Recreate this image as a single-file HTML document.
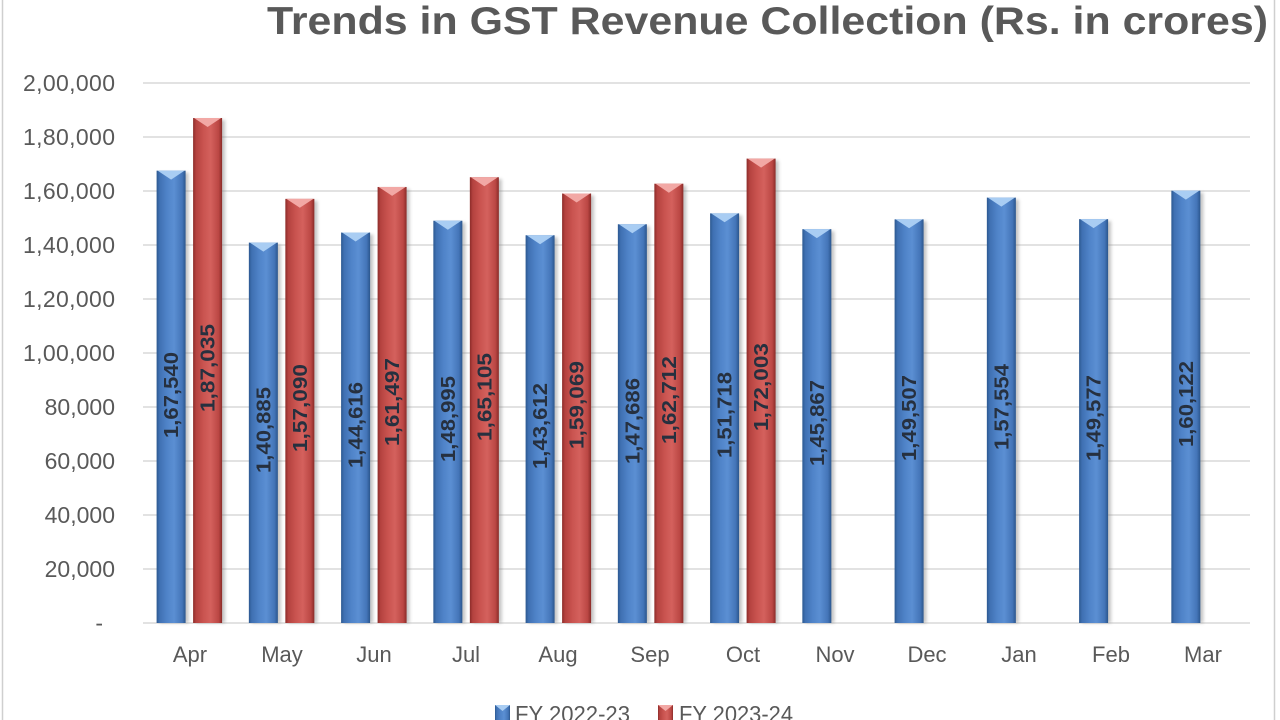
<!DOCTYPE html>
<html>
<head>
<meta charset="utf-8">
<style>
  html,body{margin:0;padding:0;background:#ffffff;}
  svg{display:block;}
  text{font-family:"Liberation Sans", Arial, sans-serif;}
</style>
</head>
<body>
<svg width="1280" height="720" viewBox="0 0 1280 720" xmlns="http://www.w3.org/2000/svg">
  <defs>
    <linearGradient id="gb" x1="0" y1="0" x2="1" y2="0">
      <stop offset="0" stop-color="#2c5890"/>
      <stop offset="0.1" stop-color="#3f70b2"/>
      <stop offset="0.35" stop-color="#4f83c8"/>
      <stop offset="0.6" stop-color="#5b8fd3"/>
      <stop offset="0.88" stop-color="#4475b8"/>
      <stop offset="1" stop-color="#2b568d"/>
    </linearGradient>
    <linearGradient id="gr" x1="0" y1="0" x2="1" y2="0">
      <stop offset="0" stop-color="#8c2c29"/>
      <stop offset="0.1" stop-color="#b4423f"/>
      <stop offset="0.35" stop-color="#c9534f"/>
      <stop offset="0.6" stop-color="#d4615d"/>
      <stop offset="0.88" stop-color="#bb4744"/>
      <stop offset="1" stop-color="#8a2b28"/>
    </linearGradient>
    <filter id="sh" x="-30%" y="-5%" width="160%" height="110%">
      <feGaussianBlur stdDeviation="1.6"/>
    </filter>
  </defs>

  <rect x="0" y="0" width="1280" height="720" fill="#ffffff"/>
  <!-- borders -->
  <line x1="2.5" y1="0" x2="2.5" y2="720" stroke="#cfcfcf" stroke-width="1.5"/>
  <line x1="1274.5" y1="0" x2="1274.5" y2="720" stroke="#cfcfcf" stroke-width="1.5"/>

  <!-- title -->
  <text x="267" y="34" font-size="39" font-weight="bold" fill="#595959" textLength="1001" lengthAdjust="spacingAndGlyphs">Trends in GST Revenue Collection (Rs. in crores)</text>

  <!-- gridlines -->
  <g stroke="#d9d9d9" stroke-width="1.5">
    <line x1="143" y1="83" x2="1250" y2="83"/>
    <line x1="143" y1="137" x2="1250" y2="137"/>
    <line x1="143" y1="191" x2="1250" y2="191"/>
    <line x1="143" y1="245" x2="1250" y2="245"/>
    <line x1="143" y1="299" x2="1250" y2="299"/>
    <line x1="143" y1="353" x2="1250" y2="353"/>
    <line x1="143" y1="407" x2="1250" y2="407"/>
    <line x1="143" y1="461" x2="1250" y2="461"/>
    <line x1="143" y1="515" x2="1250" y2="515"/>
    <line x1="143" y1="569" x2="1250" y2="569"/>
    <line x1="143" y1="623" x2="1250" y2="623"/>
  </g>

  <!-- y-axis labels -->
  <g font-size="23" fill="#595959" text-anchor="end">
    <text x="115" y="83" dy="0.35em" textLength="92">2,00,000</text>
    <text x="115" y="137" dy="0.35em" textLength="92">1,80,000</text>
    <text x="115" y="191" dy="0.35em" textLength="92">1,60,000</text>
    <text x="115" y="245" dy="0.35em" textLength="92">1,40,000</text>
    <text x="115" y="299" dy="0.35em" textLength="92">1,20,000</text>
    <text x="115" y="353" dy="0.35em" textLength="92">1,00,000</text>
    <text x="115" y="407" dy="0.35em">80,000</text>
    <text x="115" y="461" dy="0.35em">60,000</text>
    <text x="115" y="515" dy="0.35em">40,000</text>
    <text x="115" y="569" dy="0.35em">20,000</text>
    <text x="103" y="623" dy="0.35em">-</text>
  </g>

  <!-- shadows -->
  <g fill="#7f7f7f" opacity="0.45" filter="url(#sh)">
    <rect x="159.6" y="172.6" width="29" height="450.4"/>
    <rect x="196.1" y="120" width="29" height="503"/>
    <rect x="251.85" y="244.6" width="29" height="378.4"/>
    <rect x="288.35" y="200.9" width="29" height="422.1"/>
    <rect x="344.1" y="234.5" width="29" height="388.5"/>
    <rect x="380.6" y="189" width="29" height="434"/>
    <rect x="436.35" y="222.7" width="29" height="400.3"/>
    <rect x="472.85" y="179.2" width="29" height="443.8"/>
    <rect x="528.6" y="237.3" width="29" height="385.7"/>
    <rect x="565.1" y="195.5" width="29" height="427.5"/>
    <rect x="620.85" y="226.3" width="29" height="396.7"/>
    <rect x="657.35" y="185.7" width="29" height="437.3"/>
    <rect x="713.1" y="215.4" width="29" height="407.6"/>
    <rect x="749.6" y="160.6" width="29" height="462.4"/>
    <rect x="805.35" y="231.2" width="29" height="391.8"/>
    <rect x="897.6" y="221.3" width="29" height="401.7"/>
    <rect x="989.85" y="199.6" width="29" height="423.4"/>
    <rect x="1082.1" y="221.1" width="29" height="401.9"/>
    <rect x="1174.35" y="192.7" width="29" height="430.3"/>
  </g>

  <!-- blue bars FY 2022-23 -->
  <g fill="url(#gb)">
    <rect x="156.6" y="170.64" width="29" height="452.36"/>
    <rect x="248.85" y="242.61" width="29" height="380.39"/>
    <rect x="341.1" y="232.54" width="29" height="390.46"/>
    <rect x="433.35" y="220.71" width="29" height="402.29"/>
    <rect x="525.6" y="235.25" width="29" height="387.75"/>
    <rect x="617.85" y="224.25" width="29" height="398.75"/>
    <rect x="710.1" y="213.36" width="29" height="409.64"/>
    <rect x="802.35" y="229.16" width="29" height="393.84"/>
    <rect x="894.6" y="219.33" width="29" height="403.67"/>
    <rect x="986.85" y="197.6" width="29" height="425.4"/>
    <rect x="1079.1" y="219.14" width="29" height="403.86"/>
    <rect x="1171.35" y="190.67" width="29" height="432.33"/>
  </g>
  <!-- blue bevels -->
  <g fill="#a9cdf3">
    <polygon points="157.6,170.64 184.6,170.64 171.1,179.6"/>
    <polygon points="249.85,242.61 276.85,242.61 263.35,251.6"/>
    <polygon points="342.1,232.54 369.1,232.54 355.6,241.5"/>
    <polygon points="434.35,220.71 461.35,220.71 447.85,229.7"/>
    <polygon points="526.6,235.25 553.6,235.25 540.1,244.2"/>
    <polygon points="618.85,224.25 645.85,224.25 632.35,233.2"/>
    <polygon points="711.1,213.36 738.1,213.36 724.6,222.3"/>
    <polygon points="803.35,229.16 830.35,229.16 816.85,238.1"/>
    <polygon points="895.6,219.33 922.6,219.33 909.1,228.3"/>
    <polygon points="987.85,197.6 1014.85,197.6 1001.35,206.6"/>
    <polygon points="1080.1,219.14 1107.1,219.14 1093.6,228.1"/>
    <polygon points="1172.35,190.67 1199.35,190.67 1185.85,199.6"/>
  </g>

  <!-- red bars FY 2023-24 -->
  <g fill="url(#gr)">
    <rect x="193.1" y="118.01" width="29" height="504.99"/>
    <rect x="285.35" y="198.86" width="29" height="424.14"/>
    <rect x="377.6" y="186.96" width="29" height="436.04"/>
    <rect x="469.85" y="177.22" width="29" height="445.78"/>
    <rect x="562.1" y="193.51" width="29" height="429.49"/>
    <rect x="654.35" y="183.68" width="29" height="439.32"/>
    <rect x="746.6" y="158.59" width="29" height="464.41"/>
  </g>
  <g fill="#f2a8a5">
    <polygon points="194.1,118.01 221.1,118.01 207.6,127"/>
    <polygon points="286.35,198.86 313.35,198.86 299.85,207.8"/>
    <polygon points="378.6,186.96 405.6,186.96 392.1,195.9"/>
    <polygon points="470.85,177.22 497.85,177.22 484.35,186.2"/>
    <polygon points="563.1,193.51 590.1,193.51 576.6,202.5"/>
    <polygon points="655.35,183.68 682.35,183.68 668.85,192.7"/>
    <polygon points="747.6,158.59 774.6,158.59 761.1,167.6"/>
  </g>

  <!-- data labels -->
  <g font-size="20" font-weight="bold" fill="#26303f" text-anchor="middle">
    <text transform="translate(171.1,395) rotate(-90)" dy="0.35em" textLength="86" lengthAdjust="spacingAndGlyphs">1,67,540</text>
    <text transform="translate(263.35,430) rotate(-90)" dy="0.35em" textLength="86" lengthAdjust="spacingAndGlyphs">1,40,885</text>
    <text transform="translate(355.6,425) rotate(-90)" dy="0.35em" textLength="86" lengthAdjust="spacingAndGlyphs">1,44,616</text>
    <text transform="translate(447.85,419) rotate(-90)" dy="0.35em" textLength="86" lengthAdjust="spacingAndGlyphs">1,48,995</text>
    <text transform="translate(540.1,426) rotate(-90)" dy="0.35em" textLength="86" lengthAdjust="spacingAndGlyphs">1,43,612</text>
    <text transform="translate(632.35,421) rotate(-90)" dy="0.35em" textLength="86" lengthAdjust="spacingAndGlyphs">1,47,686</text>
    <text transform="translate(724.6,415) rotate(-90)" dy="0.35em" textLength="86" lengthAdjust="spacingAndGlyphs">1,51,718</text>
    <text transform="translate(816.85,423) rotate(-90)" dy="0.35em" textLength="86" lengthAdjust="spacingAndGlyphs">1,45,867</text>
    <text transform="translate(909.1,418) rotate(-90)" dy="0.35em" textLength="86" lengthAdjust="spacingAndGlyphs">1,49,507</text>
    <text transform="translate(1001.35,407) rotate(-90)" dy="0.35em" textLength="86" lengthAdjust="spacingAndGlyphs">1,57,554</text>
    <text transform="translate(1093.6,418) rotate(-90)" dy="0.35em" textLength="86" lengthAdjust="spacingAndGlyphs">1,49,577</text>
    <text transform="translate(1185.85,404) rotate(-90)" dy="0.35em" textLength="86" lengthAdjust="spacingAndGlyphs">1,60,122</text>

    <text transform="translate(207.6,368) rotate(-90)" dy="0.35em" textLength="88" lengthAdjust="spacingAndGlyphs">1,87,035</text>
    <text transform="translate(299.85,408) rotate(-90)" dy="0.35em" textLength="88" lengthAdjust="spacingAndGlyphs">1,57,090</text>
    <text transform="translate(392.1,402) rotate(-90)" dy="0.35em" textLength="88" lengthAdjust="spacingAndGlyphs">1,61,497</text>
    <text transform="translate(484.35,397) rotate(-90)" dy="0.35em" textLength="88" lengthAdjust="spacingAndGlyphs">1,65,105</text>
    <text transform="translate(576.6,405) rotate(-90)" dy="0.35em" textLength="88" lengthAdjust="spacingAndGlyphs">1,59,069</text>
    <text transform="translate(668.85,400) rotate(-90)" dy="0.35em" textLength="88" lengthAdjust="spacingAndGlyphs">1,62,712</text>
    <text transform="translate(761.1,387) rotate(-90)" dy="0.35em" textLength="88" lengthAdjust="spacingAndGlyphs">1,72,003</text>
  </g>

  <!-- x-axis labels -->
  <g font-size="22" fill="#595959" text-anchor="middle">
    <text x="190" y="662">Apr</text>
    <text x="282" y="662">May</text>
    <text x="374" y="662">Jun</text>
    <text x="466" y="662">Jul</text>
    <text x="558" y="662">Aug</text>
    <text x="650" y="662">Sep</text>
    <text x="743" y="662">Oct</text>
    <text x="835" y="662">Nov</text>
    <text x="927" y="662">Dec</text>
    <text x="1019" y="662">Jan</text>
    <text x="1111" y="662">Feb</text>
    <text x="1203" y="662">Mar</text>
  </g>

  <!-- legend -->
  <rect x="495" y="705" width="15" height="15" fill="url(#gb)"/>
  <polygon points="495,705 510,705 502.5,711" fill="#a9cdf3"/>
  <text x="515" y="722" font-size="23" fill="#595959" textLength="115" lengthAdjust="spacingAndGlyphs">FY 2022-23</text>
  <rect x="658" y="705" width="15" height="15" fill="url(#gr)"/>
  <polygon points="658,705 673,705 665.5,711" fill="#f2a8a5"/>
  <text x="679" y="722" font-size="23" fill="#595959" textLength="114" lengthAdjust="spacingAndGlyphs">FY 2023-24</text>
</svg>
</body>
</html>
